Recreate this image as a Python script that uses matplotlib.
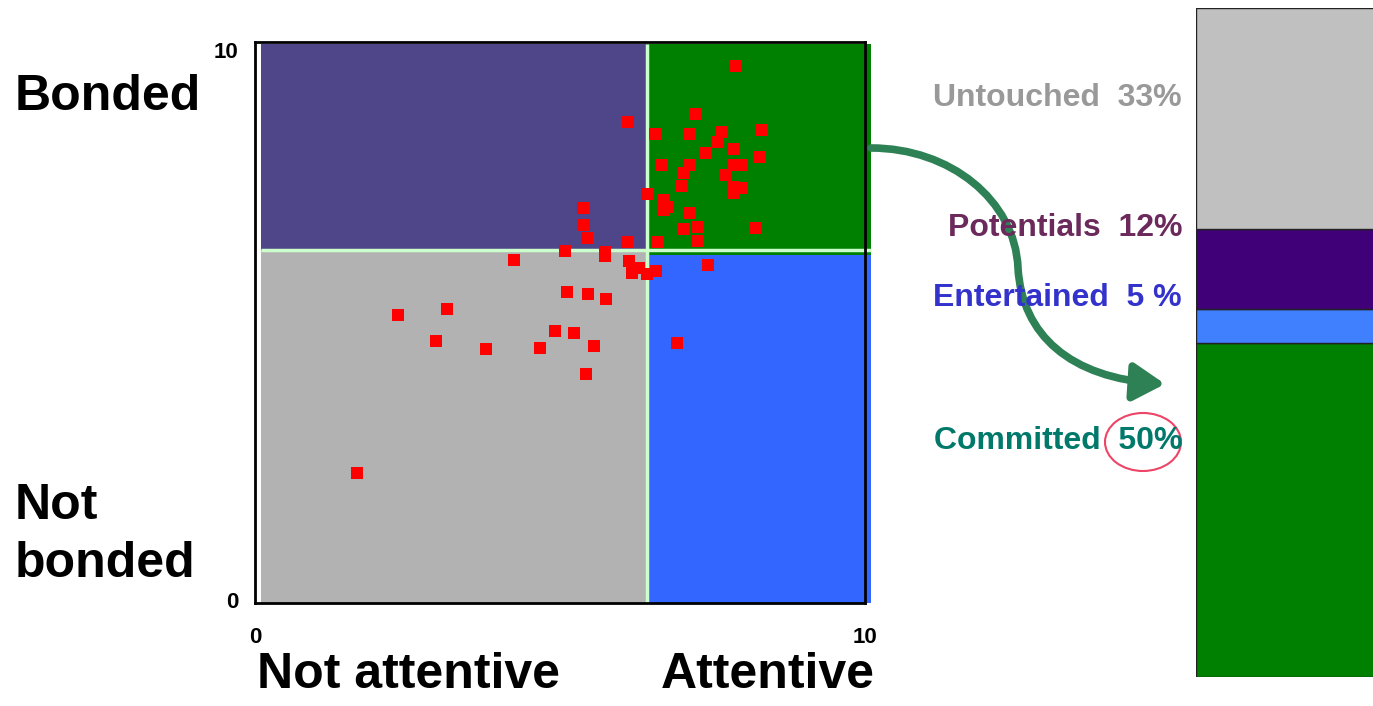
import matplotlib
matplotlib.use("Agg")
import matplotlib.pyplot as plt
from matplotlib.patches import Rectangle, Ellipse, FancyArrowPatch
from matplotlib.path import Path

plt.rcParams['font.family'] = ['Liberation Sans', 'DejaVu Sans']
plt.rcParams['font.weight'] = 'bold'

# survey respondents: attentiveness (x) vs bonding (y)
attentive = [7.89, 7.22, 6.11, 6.55, 7.11, 7.64, 8.31, 7.57, 7.86, 7.39,
             8.26, 6.68, 7.13, 7.86, 7.97, 7.02, 7.70, 6.98, 7.85, 7.97,
             7.84, 6.43, 6.70, 6.76, 6.71, 7.13, 5.37, 5.40, 7.02, 7.24,
             8.19, 5.44, 6.10, 6.59, 7.24, 5.08, 5.73, 5.74, 4.24, 6.13,
             6.30, 6.18, 6.43, 6.58, 7.43, 5.12, 5.46, 5.76, 3.14, 2.35,
             4.91, 5.23, 2.96, 3.79, 4.67, 5.56, 6.91, 5.43, 1.68]
bonded = [9.58, 8.72, 8.57, 8.36, 8.36, 8.39, 8.44, 8.22, 8.09, 8.03,
          7.95, 7.81, 7.81, 7.81, 7.81, 7.67, 7.63, 7.43, 7.41, 7.39,
          7.31, 7.29, 7.19, 7.05, 7.00, 6.96, 7.04, 6.73, 6.66, 6.70,
          6.68, 6.51, 6.44, 6.43, 6.46, 6.28, 6.26, 6.18, 6.11, 6.09,
          5.98, 5.89, 5.86, 5.91, 6.03, 5.54, 5.50, 5.42, 5.24, 5.14,
          4.84, 4.82, 4.67, 4.52, 4.54, 4.59, 4.64, 4.09, 2.31]

split_x = 6.43
split_y = 6.29

segments = ['Committed', 'Entertained', 'Potentials', 'Untouched']
shares = [50, 5, 12, 33]
seg_colors = ['#008000', '#4080ff', '#400078', '#c0c0c0']
seg_labels = ['Committed  50%', 'Entertained  5 %', 'Potentials  12%', 'Untouched  33%']
label_colors = ['#00796b', '#3333cc', '#6b2a5b', '#999999']
label_y = [441, 298, 228, 98]

W, H = 1373, 706
fig = plt.figure(figsize=(W / 100, H / 100), dpi=100)


def fx(px):
    return px / W


def fy(py):
    return 1 - py / H


# quadrant chart
ax = fig.add_axes([fx(255), fy(603), fx(865) - fx(255), fy(42) - fy(603)])
ax.set_xlim(0, 10)
ax.set_ylim(0, 10)
quads = [
    (0.1, 0, split_x - 0.1, split_y, '#b2b2b2'),
    (0.1, split_y, split_x - 0.1, 9.97 - split_y, '#4e4688'),
    (split_x, 6.2, 10.1 - split_x, 9.97 - 6.2, '#008000'),
    (split_x, 0, 10.1 - split_x, 6.2, '#3366ff'),
]
for x0, y0, w, h, c in quads:
    ax.add_patch(Rectangle((x0, y0), w, h, facecolor=c, edgecolor='none',
                           clip_on=False, zorder=1))
ax.plot([0.1, 10.1], [split_y, split_y], color='#ccffcc', lw=2.5,
        solid_capstyle='butt', clip_on=False, zorder=2)
ax.plot([split_x, split_x], [0, 9.97], color='#ccffcc', lw=2.5,
        solid_capstyle='butt', zorder=2)
ax.plot(attentive, bonded, 's', color='#ff0000', markersize=8.5,
        markeredgewidth=0, clip_on=False, zorder=3)

for s in ax.spines.values():
    s.set_linewidth(2)
    s.set_zorder(5)
ax.set_xticks([0, 10])
ax.set_xticklabels(['0', '10'])
ax.set_yticks([0, 10])
ax.set_yticklabels(['0', '10'])
ax.tick_params(length=0, labelsize=16)
ax.tick_params(axis='x', pad=17)
ax.tick_params(axis='y', pad=12)
ax.yaxis.get_majorticklabels()[1].set_va('top')
ax.yaxis.get_majorticklabels()[0].set_va('center')

big = dict(fontsize=36, fontweight='bold', color='black')
fig.text(fx(15), fy(97), 'Bonded', ha='left', va='center', **big)
fig.text(fx(15), fy(535), 'Not\nbonded', ha='left', va='center',
         linespacing=1.35, **big)
fig.text(fx(257), fy(675), 'Not attentive', ha='left', va='center', **big)
fig.text(fx(875), fy(675), 'Attentive', ha='right', va='center', **big)

# stacked share bar
bx = fig.add_axes([fx(1196), fy(677), 0.2, fy(8) - fy(677)])
bx.set_xlim(0, 1)
bx.set_ylim(0, 100)
bottom = 0
for name, v, c in zip(segments, shares, seg_colors):
    bx.bar(0.5, v, width=1.0, bottom=bottom, color=c, edgecolor='#222222',
           linewidth=1)
    bottom += v
bx.axis('off')

for text, c, py in zip(seg_labels, label_colors, label_y):
    fig.text(fx(1182), fy(py), text, ha='right', va='center', fontsize=23,
             fontweight='bold', color=c)

fig.patches.append(Ellipse((fx(1143), fy(442)), fx(76), 58 / H,
                           transform=fig.transFigure, fill=False,
                           edgecolor='#ee4466', lw=1.5))

# curved arrow into the committed segment
pts = [(871, 148), (950, 148), (1015, 200), (1018, 268),
       (1022, 335), (1070, 378), (1165, 384)]
codes = [Path.MOVETO] + [Path.CURVE4] * 6
path = Path([(fx(a), fy(b)) for a, b in pts], codes)
arrow = FancyArrowPatch(path=path, transform=fig.transFigure,
                        arrowstyle='-|>,head_length=0.5,head_width=0.3',
                        mutation_scale=38, color='#2e8055', lw=5.5)
fig.patches.append(arrow)

fig.savefig('out.png', dpi=100)
